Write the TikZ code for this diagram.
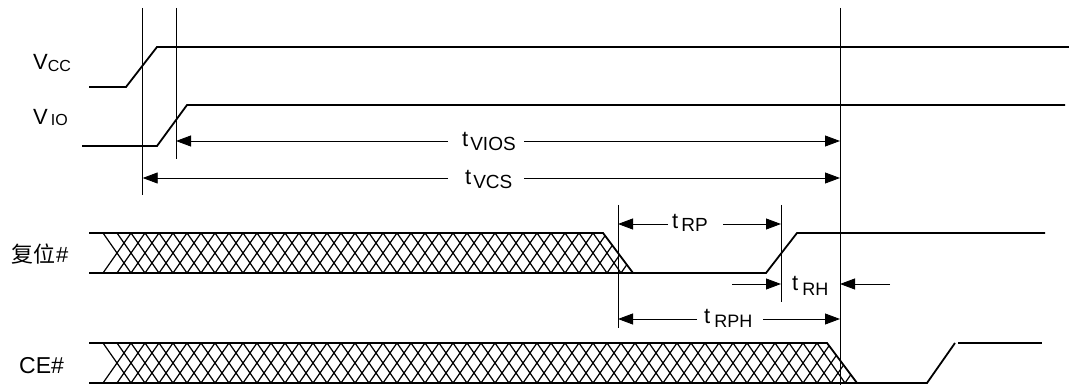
\documentclass[tikz,border=0pt]{standalone}
\usepackage{fontspec}
\setmainfont{Liberation Sans}
\newfontfamily\cjkfont{Noto Sans CJK SC}
\usetikzlibrary{arrows.meta}
\tikzset{
  sig/.style={line width=1.8pt},
  guide/.style={line width=0.9pt},
  dim/.style={line width=0.9pt,-{Triangle[length=15pt,width=11pt]}},
  hatchln/.style={line width=1.2pt},
  lab/.style={anchor=base west,inner sep=0pt,font=\fontsize{22}{22}\selectfont},
}
\newcommand\myhatch[4]{%
  \begin{scope}
    \clip (#1,#3) -- (#2,#3) -- ({#2+30},#4) -- (#1,#4) -- cycle;
    \foreach \k in {0,...,56} {
      \draw[hatchln] ({#1+\k*14},#3) -- ++(28,40);
      \draw[hatchln] ({#1+\k*14},#4) -- ++(28,-40);
    }
  \end{scope}}
\newcommand\sub[3]{\raisebox{-#1pt}{\fontsize{#2}{#2}\selectfont #3}}
\begin{document}
\begin{tikzpicture}[x=1pt,y=-1pt]
\useasboundingbox (0,0) rectangle (1069,385);
% guide lines
\draw[guide] (142.7,8) -- (142.7,195);
\draw[guide] (176,8) -- (176,159);
\draw[guide] (840,8) -- (840,385);
\draw[guide] (618,205) -- (618,328);
\draw[guide] (781,205) -- (781,302);
% VCC
\draw[sig] (89,87) -- (126,87) -- (157,47) -- (1069,47);
% VIO
\draw[sig] (82,146) -- (157,146) -- (187,105) -- (1065,105);
% Reset#
\myhatch{103}{603}{233}{273}
\draw[sig] (89,233) -- (603,233) -- (633,273);
\draw[sig] (89,273) -- (766,273) -- (797,233) -- (1045,233);
% CE#
\myhatch{103}{827}{343}{383}
\draw[sig] (89,343) -- (827,343) -- (857,383);
\draw[sig] (89,383) -- (927,383) -- (955,343);
\draw[sig] (958,343) -- (1042,343);
% dimension arrows
\draw[dim] (448,141) -- (176,141);
\draw[dim] (524,141) -- (840,141);
\draw[dim] (448,178) -- (142.7,178);
\draw[dim] (524,178) -- (840,178);
\draw[dim] (668,224) -- (618,224);
\draw[dim] (723,224) -- (781,224);
\draw[dim] (732,284) -- (781,284);
\draw[dim] (890,284) -- (840,284);
\draw[dim] (697,319) -- (618,319);
\draw[dim] (763,319) -- (840,319);
% labels
\node[lab] (lvcc) at (33,70) {V\sub{2}{16}{CC}};
\node[lab] (lvio) at (33,125) {V\kern3pt\sub{1}{16}{IO}};
\node[lab] (lrst) at (11,262) {{\cjkfont 复位}\kern1pt\#};
\node[lab,font=\fontsize{23}{23}\selectfont] (lce) at (19,373) {CE\#};
\node[lab] (tvios) at (462,147) {t\kern2pt\sub{4}{19}{VIOS}};
\node[lab] (tvcs) at (465,185) {t\kern2pt\sub{4}{19}{VCS}};
\node[lab] (trp) at (672,228) {t\kern3pt\sub{4}{19}{RP}};
\node[lab] (trh) at (792,290) {t\kern4pt\sub{5}{18}{RH}};
\node[lab] (trph) at (704,323) {t\kern4pt\sub{4}{18}{RPH}};
\end{tikzpicture}
\end{document}
